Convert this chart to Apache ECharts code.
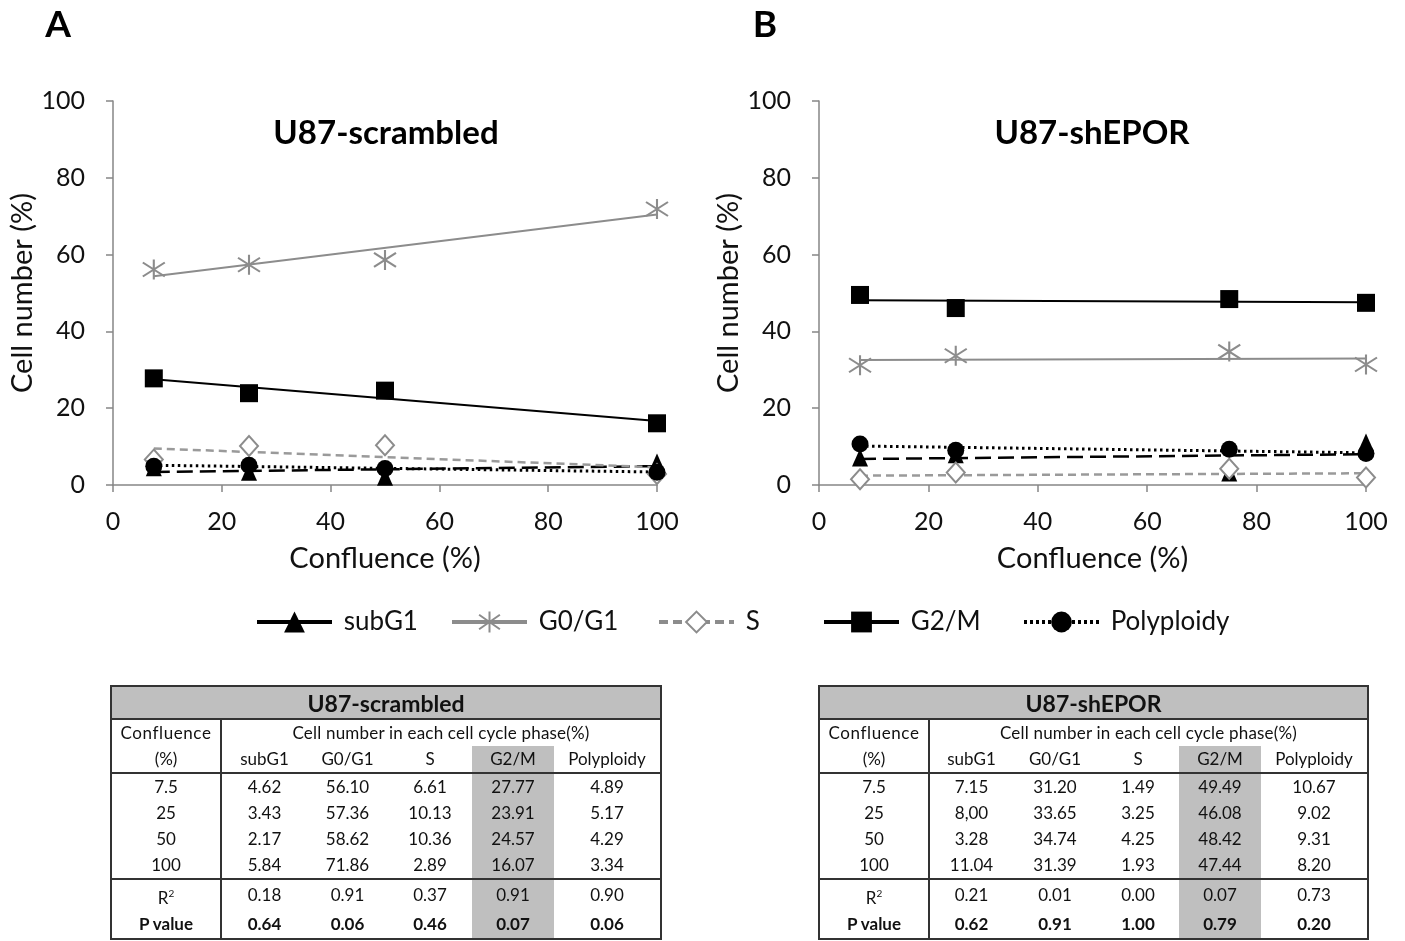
<!DOCTYPE html>
<html>
<head>
<meta charset="utf-8">
<title>U87 cell cycle phases vs confluence</title>
<script src="https://cdn.jsdelivr.net/npm/echarts@6/dist/echarts.min.js"></script>
<style>
body{margin:0;background:#fff;}
#main{position:absolute;left:0;top:0;width:1405px;height:941px;}
.tbl{position:absolute;border-collapse:collapse;table-layout:fixed;font-family:Lato,"Open Sans",sans-serif;font-size:17px;color:#111;border:2px solid #333;}
.tbl td{padding:0;text-align:center;height:26px;line-height:26px;white-space:nowrap;overflow:visible;}
.tbl td.head{background:#bfbfbf;font-weight:bold;font-size:23px;height:31px;border-bottom:2px solid #333;}
.tbl td.first{border-right:2px solid #333;}
.tbl td.g2m{background:#bfbfbf;}
.tbl tr.top td{border-top:2px solid #333;}
.tbl tr.bold td{font-weight:bold;}
</style>
</head>
<body>
<div id="main"></div>
<script type="text/javascript">
// x positions as plotted (panel B third point is drawn at 75)
var confA = [7.5, 25, 50, 100];
var confB = [7.5, 25, 75, 100];
var phaseNames = ['subG1', 'G0/G1', 'S', 'G2/M', 'Polyploidy'];

// U87-scrambled
var subG1A = [4.62, 3.43, 2.17, 5.84];
var g0g1A = [56.10, 57.36, 58.62, 71.86];
var sA = [6.61, 10.13, 10.36, 2.89];
var g2mA = [27.77, 23.91, 24.57, 16.07];
var polyA = [4.89, 5.17, 4.29, 3.34];
// U87-shEPOR
var subG1B = [7.15, 8.00, 3.28, 11.04];
var g0g1B = [31.20, 33.65, 34.74, 31.39];
var sB = [1.49, 3.25, 4.25, 1.93];
var g2mB = [49.49, 46.08, 48.42, 47.44];
var polyB = [10.67, 9.02, 9.31, 8.20];

// table texts
var tableConfA = ['7.5', '25', '50', '100'];
var tableConfB = ['7.5', '25', '50', '100'];
var subG1BText = ['7.15', '8,00', '3.28', '11.04'];
var r2A = ['0.18', '0.91', '0.37', '0.91', '0.90'];
var pA = ['0.64', '0.06', '0.46', '0.07', '0.06'];
var r2B = ['0.21', '0.01', '0.00', '0.07', '0.73'];
var pB = ['0.62', '0.91', '1.00', '0.79', '0.20'];

var FONT = 'Lato';
var GRAY = '#8c8c8c';
var STAR = 'path://M10,0 L10,20 M0,3 L20,17 M0,17 L20,3';

var look = {
  'subG1': {symbol: 'triangle', size: [16, 18], fill: '#000', stroke: '#000', bw: 0,
            line: {color: '#000', width: 2.5, type: [16, 7]}, legendLine: {color: '#000', width: 4, type: 'solid'}},
  'G0/G1': {symbol: STAR, size: [22, 20], fill: 'transparent', stroke: GRAY, bw: 2,
            line: {color: GRAY, width: 2, type: 'solid'}, legendLine: {color: GRAY, width: 4, type: 'solid'}},
  'S': {symbol: 'diamond', size: [18, 20], fill: '#fff', stroke: GRAY, bw: 2,
            line: {color: '#9a9a9a', width: 2.5, type: [8, 5]}, legendLine: {color: GRAY, width: 4, type: [9, 5]}},
  'G2/M': {symbol: 'rect', size: 18, fill: '#000', stroke: '#000', bw: 0,
            line: {color: '#000', width: 2, type: 'solid'}, legendLine: {color: '#000', width: 4, type: 'solid'}},
  'Polyploidy': {symbol: 'circle', size: 17, fill: '#000', stroke: '#000', bw: 0,
            line: {color: '#000', width: 3, type: [2.5, 3.5]}, legendLine: {color: '#000', width: 4, type: [3, 3]}}
};

// least squares trend line over the data range
function trend(xs, ys) {
  var n = xs.length, mx = 0, my = 0, sxx = 0, sxy = 0, i;
  for (i = 0; i < n; i++) { mx += xs[i] / n; my += ys[i] / n; }
  for (i = 0; i < n; i++) { sxx += (xs[i] - mx) * (xs[i] - mx); sxy += (xs[i] - mx) * (ys[i] - my); }
  var b = sxy / sxx, a = my - b * mx;
  var x0 = Math.min.apply(null, xs), x1 = Math.max.apply(null, xs);
  return [[x0, a + b * x0], [x1, a + b * x1]];
}

var panels = [
  {xs: confA, ys: [subG1A, g0g1A, sA, g2mA, polyA]},
  {xs: confB, ys: [subG1B, g0g1B, sB, g2mB, polyB]}
];

var lineSeries = [], dotSeries = [];
panels.forEach(function (p, gi) {
  phaseNames.forEach(function (name, k) {
    var st = look[name];
    var itemStyle = {color: st.fill, borderColor: st.stroke, borderWidth: st.bw, opacity: 1};
    lineSeries.push({
      type: 'line', name: name, xAxisIndex: gi, yAxisIndex: gi,
      data: trend(p.xs, p.ys[k]),
      symbol: st.symbol, showSymbol: false, symbolSize: st.size,
      lineStyle: st.line, itemStyle: itemStyle, z: 2, silent: true
    });
    dotSeries.push({
      type: 'scatter', name: name, xAxisIndex: gi, yAxisIndex: gi,
      data: p.xs.map(function (x, i) { return [x, p.ys[k][i]]; }),
      symbol: st.symbol, symbolSize: st.size, itemStyle: itemStyle, z: 3, silent: true
    });
  });
});

function xAxis(gi) {
  return {
    type: 'value', gridIndex: gi, min: 0, max: 100, interval: 20,
    name: 'Confluence (%)', nameLocation: 'middle', nameGap: 59,
    nameTextStyle: {fontFamily: FONT, fontSize: 29, color: '#111'},
    axisLine: {lineStyle: {color: '#868686', width: 1.5}},
    axisTick: {show: true, length: 7, lineStyle: {color: '#868686', width: 1.5}},
    axisLabel: {fontFamily: FONT, fontSize: 25, color: '#111', margin: 24},
    splitLine: {show: false}
  };
}
function yAxis(gi) {
  return {
    type: 'value', gridIndex: gi, min: 0, max: 100, interval: 20,
    name: 'Cell number (%)', nameLocation: 'middle', nameGap: 74,
    nameTextStyle: {fontFamily: FONT, fontSize: 29, color: '#111'},
    axisLine: {show: true, lineStyle: {color: '#868686', width: 1.5}},
    axisTick: {show: true, length: 7, lineStyle: {color: '#868686', width: 1.5}},
    axisLabel: {fontFamily: FONT, fontSize: 25, color: '#111', margin: 28},
    splitLine: {show: false}
  };
}

var legendLeft = [255, 450, 657, 822, 1022];
var legends = phaseNames.map(function (name, i) {
  return {
    data: [{name: name, lineStyle: look[name].legendLine}],
    left: legendLeft[i], top: 609, padding: 0,
    itemWidth: 75, itemHeight: 26, selectedMode: false,
    formatter: ' {name}',
    textStyle: {fontFamily: FONT, fontSize: 26, color: '#111'}
  };
});

function label(text, x, y, size) {
  return {type: 'text', x: x, y: y, silent: true,
    style: {text: text, fontFamily: FONT, fontWeight: 'bold', fontSize: size, fill: '#000',
            align: 'center', verticalAlign: 'middle'}};
}

var chart = echarts.init(document.getElementById('main'));
chart.setOption({
  animation: false,
  backgroundColor: '#fff',
  grid: [
    {left: 113, top: 101, width: 544, height: 384},
    {left: 819, top: 101, width: 547, height: 384}
  ],
  xAxis: [xAxis(0), xAxis(1)],
  yAxis: [yAxis(0), yAxis(1)],
  legend: legends,
  graphic: [
    label('A', 58, 25, 37),
    label('B', 765, 25, 37),
    label('U87-scrambled', 386, 133, 33),
    label('U87-shEPOR', 1092, 133, 33)
  ],
  series: lineSeries.concat(dotSeries)
});

// tables under the charts
function fmt(v) { return v.toFixed(2); }
function makeTable(left, title, conf, cols, r2, p, widths) {
  var t = document.createElement('table');
  t.className = 'tbl';
  t.style.left = left + 'px';
  t.style.top = '685px';
  var html = '<colgroup>' + widths.map(function (w) { return '<col style="width:' + w + 'px">'; }).join('') + '</colgroup>';
  html += '<tr><td class="head" colspan="6">' + title + '</td></tr>';
  html += '<tr><td class="first" style="letter-spacing:0.6px">Confluence</td><td colspan="5" style="letter-spacing:0.2px">Cell number in each cell cycle phase(%)</td></tr>';
  html += '<tr><td class="first">(%)</td>' + phaseNames.map(function (n) {
    return '<td' + (n === 'G2/M' ? ' class="g2m"' : '') + '>' + n + '</td>';
  }).join('') + '</tr>';
  conf.forEach(function (c, i) {
    html += '<tr' + (i === 0 ? ' class="top"' : '') + '><td class="first">' + c + '</td>' +
      cols.map(function (col, k) { return '<td' + (k === 3 ? ' class="g2m"' : '') + '>' + col[i] + '</td>'; }).join('') + '</tr>';
  });
  html += '<tr class="top"><td class="first" style="height:28px">R<sup style="font-size:10px">2</sup></td>' +
    r2.map(function (v, k) { return '<td' + (k === 3 ? ' class="g2m"' : '') + '>' + v + '</td>'; }).join('') + '</tr>';
  html += '<tr class="bold"><td class="first" style="height:27px">P value</td>' +
    p.map(function (v, k) { return '<td' + (k === 3 ? ' class="g2m"' : '') + '>' + v + '</td>'; }).join('') + '</tr>';
  t.innerHTML = html;
  document.body.appendChild(t);
}

makeTable(110, 'U87-scrambled', tableConfA,
  [subG1A.map(fmt), g0g1A.map(fmt), sA.map(fmt), g2mA.map(fmt), polyA.map(fmt)],
  r2A, pA, [110, 86, 81, 84, 82, 107]);
makeTable(818, 'U87-shEPOR', tableConfB,
  [subG1BText, g0g1B.map(fmt), sB.map(fmt), g2mB.map(fmt), polyB.map(fmt)],
  r2B, pB, [110, 84, 84, 82, 82, 107]);
</script>
</body>
</html>
